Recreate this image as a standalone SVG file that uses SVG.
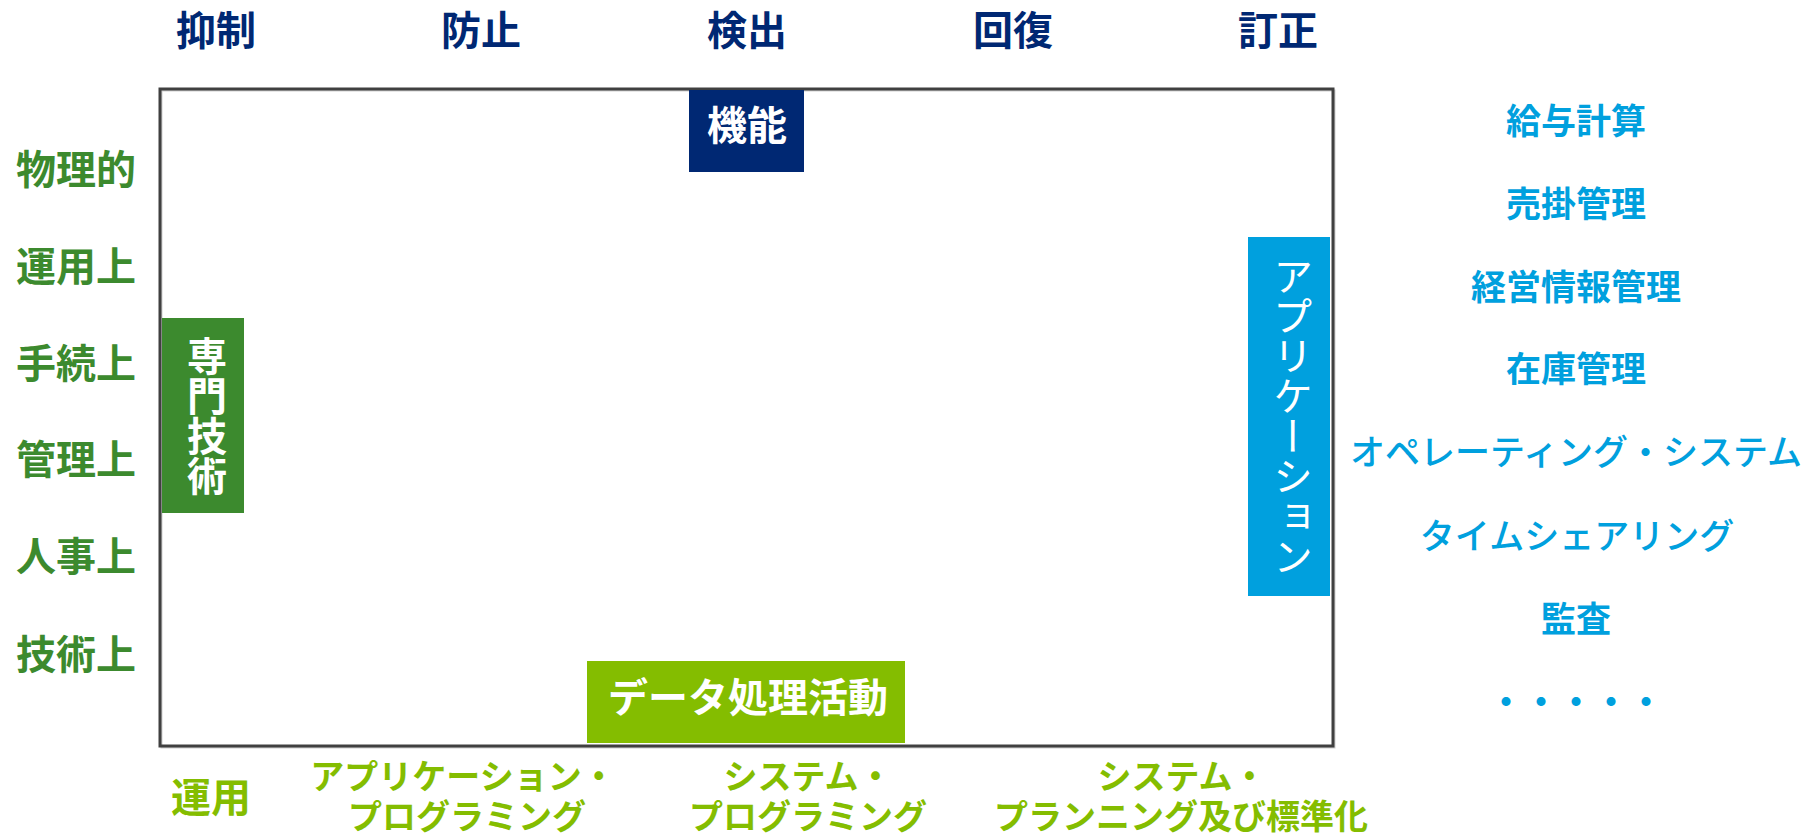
<svg xmlns="http://www.w3.org/2000/svg" width="1819" height="837" viewBox="0 0 1819 837">
<style>
text{font-family:"Noto Sans CJK JP","Noto Sans CJK SC",sans-serif;}
.hdr{font-size:40px;font-weight:bold;fill:#002873;text-anchor:middle;}
.lft{font-size:40px;font-weight:bold;fill:#3c8a2e;text-anchor:middle;}
.rgt{font-size:35px;font-weight:bold;fill:#00a0de;text-anchor:middle;}
.rgtk{font-size:35px;font-weight:500;fill:#00a0de;text-anchor:middle;}
.bot{font-size:34px;font-weight:bold;fill:#84bd00;text-anchor:middle;}
.botk{font-size:40px;font-weight:bold;fill:#84bd00;text-anchor:middle;}
.wb{font-size:40px;font-weight:bold;fill:#ffffff;text-anchor:middle;}
.vert{writing-mode:vertical-rl;}
.wv{font-size:40px;fill:#ffffff;text-anchor:middle;}
</style>
<rect x="0" y="0" width="1819" height="837" fill="#ffffff"/>
<g id="frame">
<rect x="161.5" y="90.5" width="1173" height="657" fill="none" stroke="#cfcfcf" stroke-width="2"/>
<rect x="160" y="89" width="1173" height="657" fill="none" stroke="#404040" stroke-width="3"/>
</g>
<g id="headers">
<text class="hdr" x="216" y="45">抑制</text>
<text class="hdr" x="481" y="45">防止</text>
<text class="hdr" x="747" y="45">検出</text>
<text class="hdr" x="1013" y="45">回復</text>
<text class="hdr" x="1278" y="45">訂正</text>
</g>
<g id="left-labels">
<text class="lft" x="76" y="184">物理的</text>
<text class="lft" x="76" y="281">運用上</text>
<text class="lft" x="76" y="378">手続上</text>
<text class="lft" x="76" y="474">管理上</text>
<text class="lft" x="76" y="571">人事上</text>
<text class="lft" x="76" y="669">技術上</text>
</g>
<g id="right-labels">
<text class="rgt" x="1576" y="134">給与計算</text>
<text class="rgt" x="1576" y="217">売掛管理</text>
<text class="rgt" x="1576" y="300">経営情報管理</text>
<text class="rgt" x="1576" y="382">在庫管理</text>
<text class="rgtk" x="1576" y="465">オペレーティング・システム</text>
<text class="rgtk" x="1577" y="549">タイムシェアリング</text>
<text class="rgt" x="1576" y="632">監査</text>
<text class="rgt" x="1576" y="715">・・・・・</text>
</g>
<g id="node-kinou">
<rect x="689" y="90" width="115" height="82" fill="#002873"/>
<text class="wb" x="747" y="140">機能</text>
</g>
<g id="node-senmon">
<rect x="162" y="318" width="82" height="195" fill="#3c8a2e"/>
<text class="wv vert" x="207" y="416" font-weight="bold">専門技術</text>
</g>
<g id="node-application">
<rect x="1248" y="237" width="82" height="359" fill="#00a0de"/>
<text class="wv vert" x="1293" y="416">アプリケーション</text>
</g>
<g id="node-data">
<rect x="587" y="661" width="318" height="82" fill="#84bd00"/>
<text class="wb" x="748" y="712">データ処理活動</text>
</g>
<g id="bottom-labels">
<text class="botk" x="211" y="812">運用</text>
<text class="bot"><tspan x="463" y="789">アプリケーション・</tspan><tspan x="467" y="829">プログラミング</tspan></text>
<text class="bot"><tspan x="808" y="789">システム・</tspan><tspan x="808" y="829">プログラミング</tspan></text>
<text class="bot"><tspan x="1182" y="789">システム・</tspan><tspan x="1181" y="829">プランニング及び標準化</tspan></text>
</g>
<g id="connectors"></g>
</svg>
